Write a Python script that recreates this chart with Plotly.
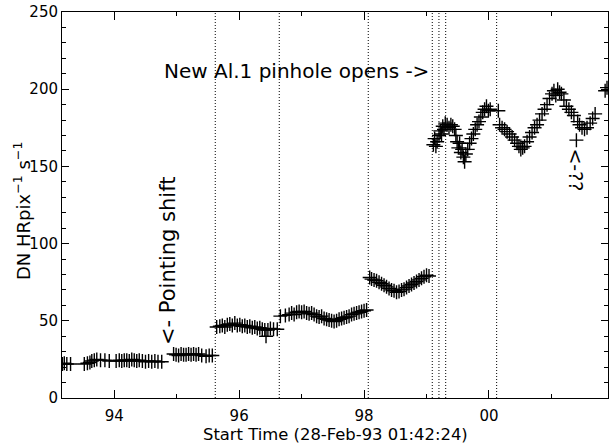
import plotly.graph_objects as go

# ---- data (years since 1900, DN HRpix^-1 s^-1) ----
seg1_x = [93.17, 93.20, 93.24, 93.30, 93.52, 93.57, 93.61, 93.64, 93.68, 93.72, 93.78, 93.85, 93.92,
          94.03, 94.08, 94.12, 94.16, 94.20, 94.24, 94.28, 94.32, 94.36, 94.40, 94.45, 94.50, 94.55,
          94.60, 94.65, 94.70, 94.76]
seg1_y = [22, 22.5, 22, 22, 22, 22.5, 23, 24, 24.5, 25, 24.5, 24.5, 24,
          24, 24.5, 24, 24.5, 24.5, 24, 25, 24.5, 24, 24.5, 24, 23.5, 24, 23.5, 24, 23.5, 23.5]

seg2_x = [94.95, 94.99, 95.03, 95.07, 95.11, 95.15, 95.19, 95.23, 95.27, 95.31, 95.35, 95.40,
          95.47, 95.52, 95.57]
seg2_y = [28.5, 28, 27.5, 28.5, 28, 28, 28.5, 28, 28.5, 28, 28.5, 27.5, 27, 27.5, 27.5]

seg3_x = [95.64, 95.69, 95.73, 95.77, 95.81, 95.85, 95.89, 95.93, 95.97, 96.01, 96.05, 96.09,
          96.13, 96.17, 96.21, 96.25, 96.29, 96.33, 96.37, 96.41, 96.43, 96.46, 96.50, 96.55, 96.61]
seg3_y = [46, 46.5, 47, 46, 47.5, 48, 47, 48.5, 47, 47.5, 46.5, 47, 46, 46.5, 45.5, 46, 45,
          45.5, 44.5, 44, 40, 44, 45, 44.5, 44.5]

seg4_x = [96.66, 96.74, 96.80, 96.84, 96.88, 96.92, 96.96, 97.00, 97.04, 97.08, 97.12, 97.16,
          97.20, 97.24, 97.28, 97.32, 97.36, 97.40, 97.44, 97.48, 97.52, 97.56, 97.60, 97.64,
          97.68, 97.72, 97.76, 97.80, 97.84, 97.88, 97.92, 97.96, 98.00, 98.04]
seg4_y = [53, 53.5, 54, 55, 54, 55.5, 56, 55.5, 56, 55, 54.5, 55, 54, 53, 52.5, 53, 51.5, 51,
          50.5, 50, 49.5, 50, 51, 51.5, 52, 52.5, 53, 54, 54.5, 55, 55.5, 56, 56.5, 57]

seg5_x = [98.09, 98.12, 98.16, 98.20, 98.24, 98.28, 98.32, 98.36, 98.40, 98.44, 98.48, 98.52,
          98.56, 98.60, 98.64, 98.68, 98.72, 98.76, 98.80, 98.84, 98.88, 98.92, 98.96, 99.00, 99.04]
seg5_y = [78, 77, 76.5, 76, 75, 74, 73, 72, 71, 70, 69.5, 68.5, 69, 70, 70.5, 71.5, 72.5, 73.5,
          74.5, 75.5, 76.5, 77.5, 78.5, 79.5, 79]

seg6_x = [99.11, 99.13, 99.15, 99.17, 99.20, 99.22, 99.24, 99.26, 99.28, 99.30, 99.33, 99.36,
          99.39, 99.42, 99.45, 99.47, 99.49, 99.51, 99.53, 99.55, 99.57, 99.59, 99.61, 99.63,
          99.66, 99.69, 99.72, 99.75, 99.78, 99.81, 99.84, 99.87, 99.90, 99.93, 99.96, 99.99, 100.02]
seg6_y = [164, 168, 163, 166, 170, 173, 171, 176, 174, 178, 177, 175, 177, 176, 174, 170, 166,
          162, 165, 159, 161, 156, 153, 158, 161, 165, 168, 171, 174, 177, 179, 182, 185, 187,
          189, 186, 187]

seg7_x = [100.15, 100.17, 100.21, 100.25, 100.29, 100.33, 100.37, 100.41, 100.45, 100.48, 100.51,
          100.54, 100.57, 100.61, 100.65, 100.69, 100.73, 100.77, 100.81, 100.85, 100.89, 100.93,
          100.97, 101.01, 101.04, 101.07, 101.10, 101.13, 101.16, 101.20, 101.24, 101.28, 101.32,
          101.36, 101.40, 101.42, 101.45, 101.49, 101.53, 101.57, 101.62, 101.66, 101.70, 101.86,
          101.89]
seg7_y = [186, 177, 175, 174, 172.5, 171, 169, 167, 165, 163, 161, 162, 163, 166, 169, 172, 175,
          177, 180, 184, 187, 190, 194, 197, 199, 196, 200, 198, 197, 193, 189, 187, 185, 183, 167,
          179, 177, 175, 174, 175, 178, 181, 184, 199, 201]

event_years = [95.617, 96.642, 98.067, 99.092, 99.199, 99.307, 100.123]

x_tickvals = [94, 96, 98, 100]
x_ticktext = ["94", "96", "98", "00"]
x_minor_tickvals = [95, 97, 99, 101]
y_tickvals = [0, 50, 100, 150, 200, 250]

x_range = [93.163, 101.906]
y_range = [0, 250]

FONT = "DejaVu Sans"

fig = go.Figure()
for sx, sy in [(seg1_x, seg1_y), (seg2_x, seg2_y), (seg3_x, seg3_y), (seg4_x, seg4_y),
               (seg5_x, seg5_y), (seg6_x, seg6_y), (seg7_x, seg7_y)]:
    fig.add_trace(go.Scatter(
        x=sx, y=sy, mode="markers",
        marker=dict(symbol="cross-thin", size=10, color="black",
                    line=dict(color="black", width=1.4)),
        showlegend=False, hoverinfo="skip"))

for ev in event_years:
    fig.add_shape(type="line", xref="x", yref="paper", x0=ev, x1=ev, y0=0, y1=1,
                  line=dict(color="black", width=1, dash="1px,2px"), layer="above")

axis_common = dict(showgrid=False, zeroline=False, showline=True, linecolor="black",
                   linewidth=1, mirror="allticks", ticks="inside", tickcolor="black",
                   tickwidth=1, tickfont=dict(family=FONT, size=15, color="black"))

fig.update_xaxes(range=x_range, tickvals=x_tickvals, ticktext=x_ticktext, ticklen=8,
                 minor=dict(tickvals=x_minor_tickvals, ticks="inside", ticklen=4,
                            tickcolor="black", tickwidth=1),
                 ticklabelstandoff=4, **axis_common)
fig.update_yaxes(range=y_range, tickvals=y_tickvals, ticklen=7,
                 minor=dict(dtick=10, ticks="inside", ticklen=4, tickcolor="black", tickwidth=1),
                 **axis_common)

annots = [
    dict(text="New Al.1 pinhole opens ->", x=99.07, y=212, xref="x", yref="y",
         xanchor="right", yanchor="middle", showarrow=False,
         font=dict(family=FONT, size=20, color="black")),
    dict(text="<- Pointing shift", x=94.86, y=33, xref="x", yref="y", textangle=-90,
         xanchor="center", yanchor="bottom", showarrow=False,
         font=dict(family=FONT, size=21, color="black")),
    dict(text="<-??", x=101.40, y=163, xref="x", yref="y", textangle=90,
         xanchor="center", yanchor="top", showarrow=False,
         font=dict(family=FONT, size=19, color="black")),
    dict(text="Start Time (28-Feb-93 01:42:24)", x=0.5, y=(398 - 435) / 386,
         xref="paper", yref="paper", xanchor="center", yanchor="middle", showarrow=False,
         font=dict(family=FONT, size=16.4, color="black")),
    dict(text="DN HRpix<sup>\u22121</sup> s<sup>\u22121</sup>", x=(22 - 62) / 546,
         y=(398 - 211) / 386,
         xref="paper", yref="paper", xanchor="center", yanchor="middle", textangle=-90,
         showarrow=False, font=dict(family=FONT, size=18, color="black")),
]
fig.update_layout(annotations=annots, width=610, height=444,
                  margin=dict(l=62, r=2, t=12, b=46),
                  plot_bgcolor="white", paper_bgcolor="white")

fig.write_html("out.html", config={"displayModeBar": False},
               post_script="document.body.style.margin='0px';document.body.style.padding='0px';")
